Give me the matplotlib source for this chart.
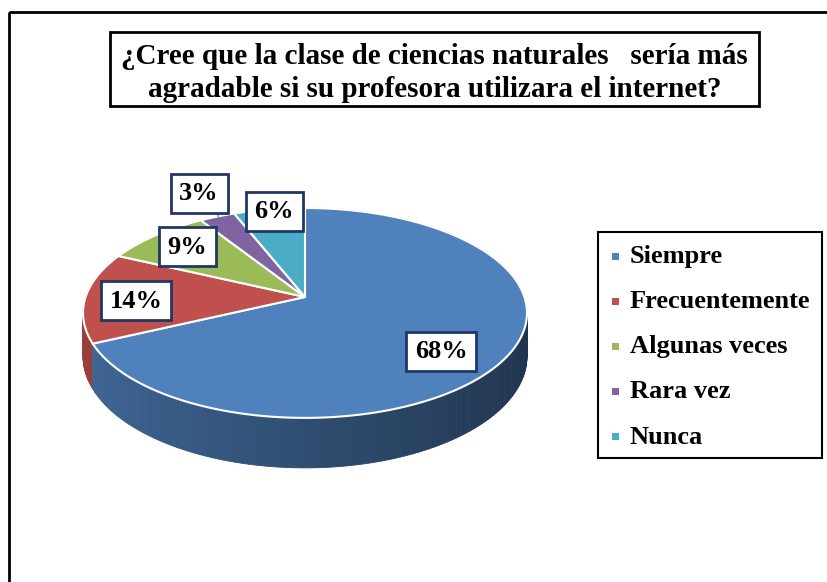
import numpy as np
import matplotlib
matplotlib.use("Agg")
import matplotlib.pyplot as plt
from matplotlib.patches import Polygon, Rectangle
from matplotlib.colors import to_rgb


categories = ["Siempre", "Frecuentemente", "Algunas veces", "Rara vez", "Nunca"]
shares = [68, 14, 9, 3, 6]
pct_labels = ["68%", "14%", "9%", "3%", "6%"]
colors = ["#4F81BD", "#C0504D", "#9BBB59", "#8064A2", "#4BACC6"]

TITLE = "¿Cree que la clase de ciencias naturales   sería más\nagradable si su profesora utilizara el internet?"

# layout in pixel coordinates (y down)
CX, CY = 305, 297          # pie apex
SX, SY = 219.4, 102.5      # projected radii
K = -0.152                 # perspective factor
DEPTH = 50                 # side height at the front
label_centers = [(441, 351), (136, 300), (187, 246), (199, 193), (274, 211)]
FONT = "Liberation Serif"


def proj(r, theta):
    # theta: clockwise from 12 o'clock, radians
    u = r * np.sin(theta)
    v = -r * np.cos(theta)
    w = 1 + K * v
    return CX + SX * u / w, CY + SY * v / w, w


def shade(color, f):
    return tuple(min(1, c * f) for c in to_rgb(color))


fig = plt.figure(figsize=(8.27, 5.82), dpi=100)
ax = fig.add_axes([0, 0, 1, 1])
ax.set_xlim(0, 827)
ax.set_ylim(582, 0)
ax.axis("off")

# chart area border (runs off the right and bottom)
ax.add_patch(Rectangle((9, 12), 840, 620, fill=False, edgecolor="black", linewidth=2))

fracs = np.array(shares, dtype=float) / sum(shares)
bounds = np.concatenate([[0], np.cumsum(fracs)]) * 2 * np.pi

# side of the pie
quads = []
for i, col in enumerate(colors):
    ts = np.linspace(bounds[i], bounds[i + 1], max(3, int(fracs[i] * 400)))
    for t0, t1 in zip(ts[:-1], ts[1:]):
        x0, y0, w0 = proj(1, t0)
        x1, y1, w1 = proj(1, t1)
        d0 = DEPTH * (1 + K) / w0
        d1 = DEPTH * (1 + K) / w1
        tm = 0.5 * (t0 + t1)
        f = 0.6 - 0.2 * np.sin(tm)
        quads.append((-np.cos(tm), [(x0, y0), (x1, y1), (x1, y1 + d1), (x0, y0 + d0)], shade(col, f)))
quads.sort(key=lambda q: q[0])
for _, pts, c in quads:
    ax.add_patch(Polygon(pts, closed=True, facecolor=c, edgecolor=c, linewidth=0.6))

# top face
for i, col in enumerate(colors):
    ts = np.linspace(bounds[i], bounds[i + 1], max(3, int(fracs[i] * 400)))
    xs, ys, _ = proj(1, ts)
    pts = [(CX, CY)] + list(zip(xs, ys))
    ax.add_patch(Polygon(pts, closed=True, facecolor=col, edgecolor="white", linewidth=1.5,
                         joinstyle="round"))

# leader line for the small slice
tm = 0.5 * (bounds[3] + bounds[4])
lx, ly, _ = proj(1, tm)
ax.plot([lx, lx + 1], [label_centers[3][1] + 19, ly], color="#808080", linewidth=1)

# data labels
for (x, y), txt in zip(label_centers, pct_labels):
    bw = 70 if len(txt) == 3 else 57
    ax.add_patch(Rectangle((x - bw / 2, y - 19.5), bw, 39, facecolor="white",
                           edgecolor="#1F3864", linewidth=2, zorder=5))
    ax.text(x, y + 1, txt, ha="center", va="center", fontsize=19, fontweight="bold",
            family=FONT, zorder=6)

# title
ax.add_patch(Rectangle((110, 32), 649, 74, fill=False, edgecolor="black", linewidth=2))
ax.text(434.5, 73, TITLE, ha="center", va="center", fontsize=21, fontweight="bold",
        family=FONT, linespacing=1.32)

# legend
ax.add_patch(Rectangle((598, 232), 224, 226, fill=False, edgecolor="black", linewidth=1.5))
for i, (name, col) in enumerate(zip(categories, colors)):
    yy = 256 + i * 45
    ax.add_patch(Rectangle((612, yy - 3.5), 7, 7, facecolor=col, edgecolor="none"))
    ax.text(630, yy + 1, name, ha="left", va="center", fontsize=19, fontweight="bold",
            family=FONT)

fig.savefig("out.png", dpi=100)
